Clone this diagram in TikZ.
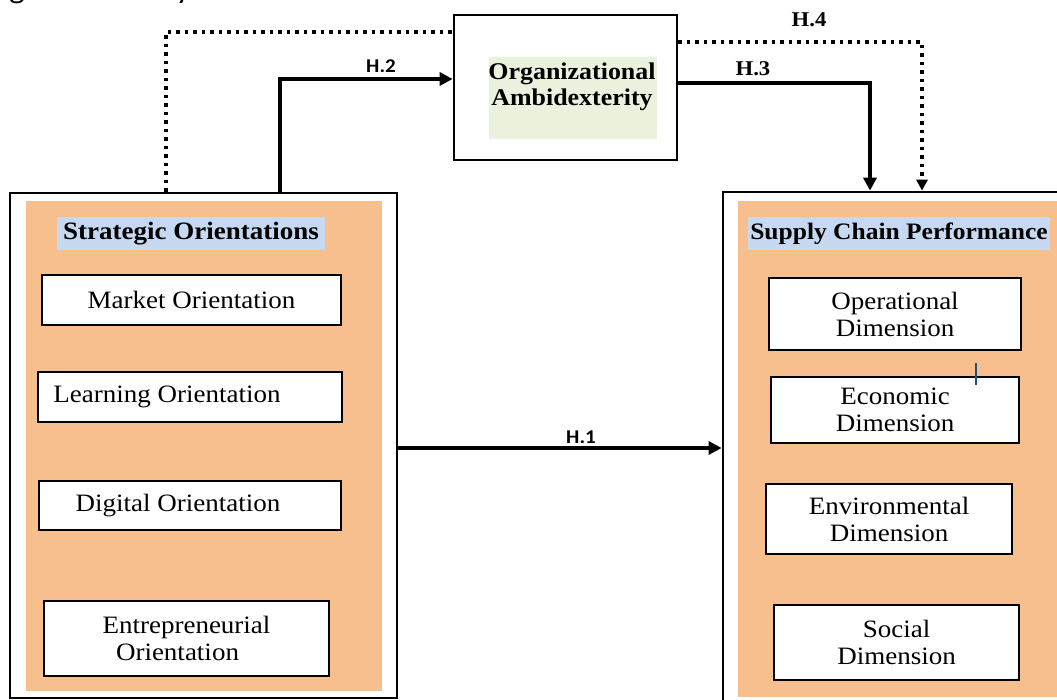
\documentclass[tikz,border=0pt]{standalone}
\usepackage{fontspec}
\setmainfont{Liberation Serif}[FakeStretch=1.08]
\newfontfamily\hfont{Carlito}[FakeStretch=1.08]
\usetikzlibrary{arrows.meta}
\definecolor{orangefill}{HTML}{F7BE8E}
\definecolor{titleblue}{HTML}{C6D9F0}
\definecolor{titlegreen}{HTML}{EAF1DD}
\definecolor{cursorblue}{HTML}{1F4E79}
\begin{document}
\begin{tikzpicture}[x=1pt,y=-1pt,
  outerbox/.style={draw=black,line width=2.7pt,inner sep=0pt},
  fillbox/.style={fill=orangefill,inner sep=0pt},
  itembox/.style={draw=black,fill=white,line width=1.5pt,inner sep=0pt,align=center,
    font=\fontsize{25}{27}\selectfont},
  titlebox/.style={inner sep=0pt,align=center,font=\bfseries\fontsize{25}{27}\selectfont},
  arr/.style={line width=4pt,-{Triangle[length=13pt,width=13pt]}},
  dotline/.style={line width=3.5pt,dash pattern=on 3.5pt off 5pt},
  dotarr/.style={dotline,-{Triangle[length=11pt,width=11pt]}},
  hlab/.style={inner sep=0pt,font=\hfont\bfseries\fontsize{19.5}{21}\selectfont},
  slab/.style={inner sep=0pt,font=\bfseries\fontsize{21}{23}\selectfont}]
\useasboundingbox (0,0) rectangle (1057,700);
\clip (0,0) rectangle (1057,700);
% clipped caption at top
\node[anchor=base west,inner sep=0pt,font=\hfont\fontsize{31}{33}\selectfont] (cap) at (-14,-1) {Figure 1: Study Model};
% left block
\node[outerbox,minimum width=387pt,minimum height=505pt] (so) at (203.5,445.5) {};
\node[fillbox,minimum width=356pt,minimum height=490pt] (sofill) at (204,446) {};
\node[titlebox,fill=titleblue,minimum width=268pt,minimum height=33pt] (sot) at (191,233.5) {Strategic Orientations};
\node[itembox,minimum width=299pt,minimum height=50pt] (mo) at (191.5,300) {Market Orientation};
\node[itembox,minimum width=304pt,minimum height=50pt] (lo) at (190,397) {Learning Orientation\hspace*{46pt}};
\node[itembox,minimum width=302pt,minimum height=49pt] (dox) at (190,505.5) {Digital Orientation\hspace*{24pt}};
\node[itembox,minimum width=285pt,minimum height=75pt] (eo) at (186.5,638.5) {Entrepreneurial\\[0pt]\hspace*{-18pt}Orientation};
% top block
\node[outerbox,minimum width=223pt,minimum height=145pt] (oa) at (565.5,87.5) {};
\node[titlebox,fill=titlegreen,minimum width=168pt,minimum height=82pt,text depth=0pt] (oat) at (573,98) {};
\node[titlebox,font=\bfseries\fontsize{24}{26}\selectfont] (oatext) at (572,87) {Organizational\\Ambidexterity};
% right block
\node[outerbox,minimum width=352pt,minimum height=513pt] (scp) at (899,448.5) {};
\node[fillbox,minimum width=330pt,minimum height=496pt] (scpfill) at (903,449) {};
\node[titlebox,fill=titleblue,minimum width=302pt,minimum height=33pt,font=\bfseries\fontsize{23.6}{26}\selectfont] (scpt) at (899,233.5) {Supply Chain Performance};
\node[itembox,minimum width=252pt,minimum height=72pt] (od) at (895,314) {Operational\\Dimension};
\node[itembox,minimum width=248pt,minimum height=66pt] (ed) at (895,410) {Economic\\Dimension};
\node[itembox,minimum width=246pt,minimum height=70pt] (env) at (889,519) {Environmental\\Dimension};
\node[itembox,minimum width=245pt,minimum height=75pt] (soc) at (896.5,642.5) {Social\\Dimension};
\coordinate (cur1) at (976,363);
\coordinate (cur2) at (976,385);
\draw[cursorblue,line width=1.2pt] (cur1) -- (cur2);
% connector helpers
\coordinate (h1row) at (0,448);
\coordinate (h2col) at (280,0);
\coordinate (h2row) at (0,79);
\coordinate (h3row) at (0,83);
\coordinate (h3col) at (870,0);
\coordinate (h4lcol) at (166,0);
\coordinate (h4lrow) at (0,32);
\coordinate (h4rrow) at (0,42);
\coordinate (h4rcol) at (922,0);
% H.1
\draw[arr] (so.east |- h1row) -- (scp.west |- h1row);
\node[hlab] (h1) at (581,437) {H.1};
% H.2
\draw[arr] (so.north -| h2col) |- (oa.west |- h2row);
\node[hlab] (h2) at (381,66) {H.2};
% H.3
\draw[arr] (oa.east |- h3row) -| (scp.north -| h3col);
\node[slab] (h3) at (753,69) {H.3};
% H.4
\draw[dotline] (so.north -| h4lcol) |- (oa.west |- h4lrow);
\draw[dotarr] (oa.east |- h4rrow) -| (scp.north -| h4rcol);
\node[slab] (h4) at (809,20) {H.4};
\end{tikzpicture}
\end{document}
